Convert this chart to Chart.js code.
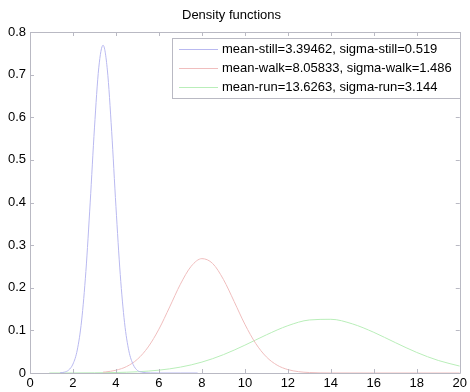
<!DOCTYPE html>
<html>
<head>
<meta charset="utf-8">
<script src="https://cdn.jsdelivr.net/npm/chart.js@4"></script>
<style>
  html, body { margin: 0; padding: 0; background: #fff; }
  #wrap { width: 470px; height: 392px; }
</style>
</head>
<body>
<div id="wrap"><canvas id="c" width="470" height="392"></canvas></div>
<script>
const titleText = "Density functions";
const seriesLabels = [
  "mean-still=3.39462, sigma-still=0.519",
  "mean-walk=8.05833, sigma-walk=1.486",
  "mean-run=13.6263, sigma-run=3.144"
];
const xTicks = [0, 2, 4, 6, 8, 10, 12, 14, 16, 18, 20];
const yTicks = [0, 0.1, 0.2, 0.3, 0.4, 0.5, 0.6, 0.7, 0.8];

const stillX = [1.4, 1.6, 1.8, 2.0, 2.2, 2.4, 2.6, 2.8, 3.0, 3.2, 3.4, 3.6, 3.8, 4.0, 4.2, 4.4, 4.6, 4.8, 5.0, 5.2, 5.6, 6.0, 7.0, 7.8];
const stillY = [0.0005, 0.002, 0.007, 0.021, 0.054, 0.122, 0.238, 0.399, 0.575, 0.716, 0.769, 0.711, 0.567, 0.390, 0.231, 0.118, 0.052, 0.020, 0.006, 0.002, 0.0002, 0, 0, 0];

const walkX = [3.4, 3.5, 4.0, 4.5, 5.0, 5.5, 6.0, 6.5, 7.0, 7.5, 8.0, 8.5, 9.0, 9.5, 10.0, 10.5, 11.0, 11.5, 12.0, 12.5, 13.0, 13.5, 14.0, 16.0, 18.0, 20.0];
const walkY = [0.002, 0.0024, 0.0065, 0.0153, 0.0323, 0.0611, 0.1029, 0.155, 0.2084, 0.2503, 0.2683, 0.2569, 0.2196, 0.1677, 0.1143, 0.0696, 0.0378, 0.0184, 0.008, 0.0031, 0.0011, 0.0003, 0.0001, 0, 0, 0];

const runX = [0.9, 2, 3, 4, 5, 6, 7, 8, 9, 10, 11, 12, 13, 14, 15, 16, 17, 18, 19, 20];
const runY = [0.00003, 0.00014, 0.0004, 0.0012, 0.0029, 0.0067, 0.0138, 0.0256, 0.043, 0.0653, 0.0895, 0.111, 0.1244, 0.126, 0.1153, 0.0954, 0.0713, 0.0482, 0.0294, 0.0162];

const lineColors = ["rgb(185,185,240)", "rgb(240,190,190)", "rgb(185,238,185)"];
const axisColor = "rgb(185,185,195)";
const FONT = "Liberation Sans, Arial, sans-serif";

function pts(xs, ys) { return xs.map((x, i) => ({ x: x, y: ys[i] })); }

const boxAndTicks = {
  id: 'boxAndTicks',
  afterDatasetsDraw(chart) {
    const { ctx, chartArea: a, scales } = chart;
    ctx.save();
    ctx.strokeStyle = axisColor;
    ctx.lineWidth = 1;
    ctx.beginPath();
    ctx.rect(Math.round(a.left) + 0.5, Math.round(a.top) + 0.5, Math.round(a.right - a.left), Math.round(a.bottom - a.top));
    ctx.stroke();
    const L = 4;
    ctx.beginPath();
    xTicks.forEach(v => {
      const px = Math.round(scales.x.getPixelForValue(v)) + 0.5;
      ctx.moveTo(px, a.bottom); ctx.lineTo(px, a.bottom - L);
      ctx.moveTo(px, a.top); ctx.lineTo(px, a.top + L);
    });
    yTicks.forEach(v => {
      const py = Math.round(scales.y.getPixelForValue(v)) + 0.5;
      ctx.moveTo(a.left, py); ctx.lineTo(a.left + L, py);
      ctx.moveTo(a.right, py); ctx.lineTo(a.right - L, py);
    });
    ctx.stroke();

    // legend box
    const bx = 172.5, by = 38.5, bw = 288, bh = 60;
    ctx.fillStyle = "#fff";
    ctx.fillRect(bx, by, bw, bh);
    ctx.strokeStyle = axisColor;
    ctx.strokeRect(bx, by, bw, bh);
    ctx.font = "13px " + FONT;
    ctx.textBaseline = "middle";
    ctx.textAlign = "left";
    chart.data.datasets.forEach((ds, i) => {
      const y = 49 + i * 19;
      ctx.strokeStyle = ds.borderColor;
      ctx.beginPath();
      ctx.moveTo(179, y + 0.5); ctx.lineTo(218, y + 0.5);
      ctx.stroke();
      ctx.fillStyle = "#000";
      ctx.fillText(ds.label, 222, y + 0.5);
    });
    ctx.restore();
  }
};

new Chart(document.getElementById('c'), {
  type: 'scatter',
  data: {
    datasets: [
      { label: seriesLabels[0], data: pts(stillX, stillY), borderColor: lineColors[0] },
      { label: seriesLabels[1], data: pts(walkX, walkY), borderColor: lineColors[1] },
      { label: seriesLabels[2], data: pts(runX, runY), borderColor: lineColors[2] }
    ].map(d => Object.assign(d, { showLine: true, pointRadius: 0, borderWidth: 1, tension: 0.4, cubicInterpolationMode: 'monotone', fill: false }))
  },
  options: {
    responsive: false,
    animation: false,
    devicePixelRatio: 1,
    layout: { padding: { left: 0, right: 7, top: 0, bottom: 0 } },
    plugins: {
      legend: { display: false },
      tooltip: { enabled: false },
      title: {
        display: true,
        text: titleText,
        color: '#000',
        font: { family: FONT, size: 13, weight: 'normal', lineHeight: 1.2 },
        padding: { top: 7.2, bottom: 9.2 }
      }
    },
    scales: {
      x: {
        type: 'linear', min: 0, max: 20,
        grid: { display: false, drawTicks: false },
        border: { display: false },
        afterFit(s) { s.height = 19; },
        afterBuildTicks(s) { s.ticks = xTicks.map(v => ({ value: v })); },
        ticks: { color: '#000', font: { family: FONT, size: 13 }, padding: 3, maxRotation: 0, autoSkip: false }
      },
      y: {
        type: 'linear', min: 0, max: 0.8,
        grid: { display: false, drawTicks: false },
        border: { display: false },
        afterFit(s) { s.width = 30; },
        afterBuildTicks(s) { s.ticks = yTicks.map(v => ({ value: v })); },
        ticks: { color: '#000', font: { family: FONT, size: 13 }, padding: 4, callback: v => (v === 0 ? '0' : String(Math.round(v * 10) / 10)) }
      }
    }
  },
  plugins: [boxAndTicks]
});
</script>
</body>
</html>
